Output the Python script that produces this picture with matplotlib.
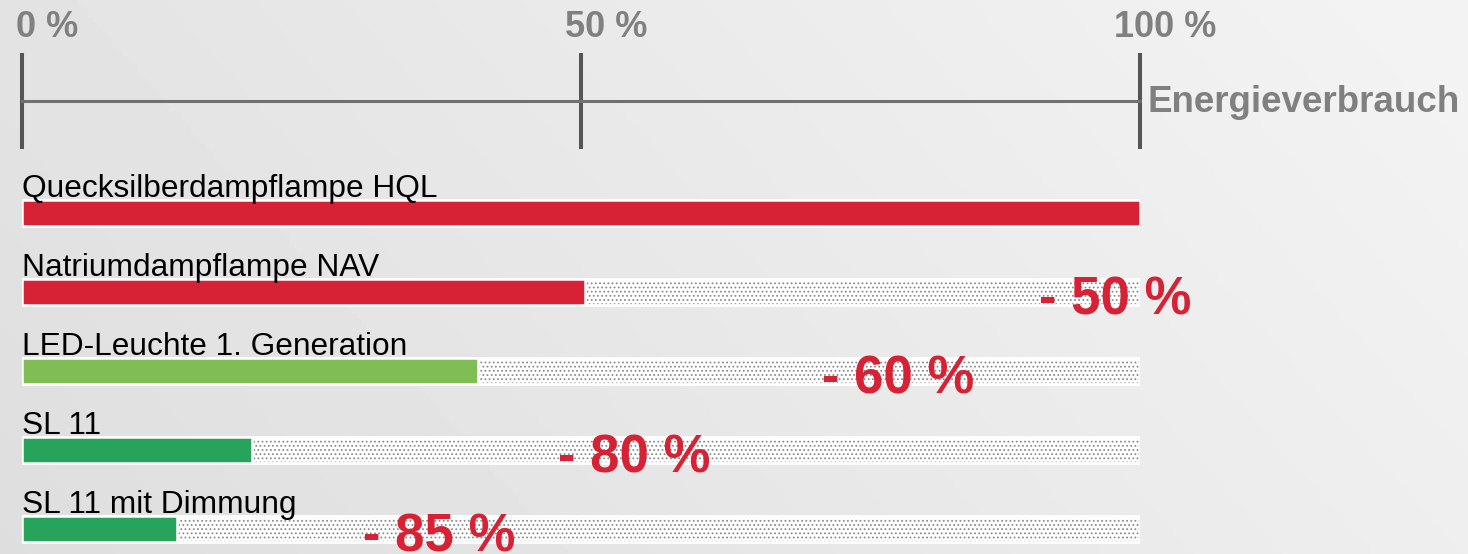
import numpy as np
import matplotlib.pyplot as plt
from matplotlib.transforms import ScaledTranslation

categories = ["Quecksilberdampflampe HQL", "Natriumdampflampe NAV",
              "LED-Leuchte 1. Generation", "SL 11", "SL 11 mit Dimmung"]
consumption = [100, 50.4, 40.8, 20.6, 13.9]
savings = ["", "- 50 %", "- 60 %", "- 80 %", "- 85 %"]
bar_colors = ["#d72134", "#d72134", "#80bd55", "#28a35c", "#28a35c"]
scale_ticks = [0, 50, 100]
scale_labels = ["0 %", "50 %", "100 %"]
# where the saving labels sit along the scale
saving_x = [0, 91.0, 71.6, 47.9, 30.5]

W, H = 1468, 554
fig = plt.figure(figsize=(W / 100, H / 100), dpi=100)
plt.rcParams['font.family'] = ['Liberation Sans', 'DejaVu Sans']
plt.rcParams['hatch.linewidth'] = 0.8

# background gradient
bg = fig.add_axes([0, 0, 1, 1], zorder=-1)
gx, gy = np.meshgrid(np.linspace(0, 1, 300), np.linspace(0, 1, 120))
grad = 0.87 + 0.085 * (0.75 * gx + 0.25 * (1 - gy))
bg.imshow(grad, cmap='gray', vmin=0, vmax=1, aspect='auto', extent=[0, 1, 0, 1])
bg.axis('off')

# bars
ax = fig.add_axes([22 / W, 0, 1118 / W, 1])
ax.set_facecolor('none')
y = np.arange(len(categories))
ax.barh(y, 100, height=0.33, color='white', edgecolor='#8c8c8c', hatch='....',
        linewidth=0)
ax.barh(y, 100, height=0.33, color='none', edgecolor='white', linewidth=2)
ax.barh(y, consumption, height=0.33, color=bar_colors, edgecolor='white',
        linewidth=1.8)
for i, name in enumerate(categories):
    ax.text(0, i - 0.205, name, fontsize=22.8, color='black', va='baseline', ha='left')
    if savings[i]:
        ax.text(saving_x[i], i + 0.29, savings[i], fontsize=38, fontweight='bold',
                color='#d72134', va='baseline', ha='left', clip_on=False)
ax.set_xlim(0, 100)
ax.set_ylim((H - 213) / 79, -213 / 79)
ax.axis('off')

# scale on top
sc = fig.add_axes([22 / W, (H - 101) / H, 1118 / W, 0])
sc.set_facecolor('none')
sc.set_xlim(0, 100)
for s in ['top', 'left', 'right']:
    sc.spines[s].set_visible(False)
sc.spines['bottom'].set_color('#707070')
sc.spines['bottom'].set_linewidth(2.2)
sc.set_yticks([])
sc.set_xticks(scale_ticks, scale_labels)
sc.tick_params(axis='x', direction='inout', length=69, width=2.9, color='#555555',
               bottom=True, top=False, labelbottom=False, labeltop=True, pad=5.5,
               labelsize=26, labelcolor='#808080')
shift = ScaledTranslation(0.25, 0, fig.dpi_scale_trans)
for lab in sc.get_xticklabels():
    lab.set_fontweight('bold')
    lab.set_transform(lab.get_transform() + shift)
sc.text(1.0, 0, "Energieverbrauch", transform=sc.transAxes + ScaledTranslation(0.08, -0.02, fig.dpi_scale_trans),
        fontsize=26.5, fontweight='bold', color='#808080', va='center', ha='left')

plt.savefig("out.png", dpi=100)
